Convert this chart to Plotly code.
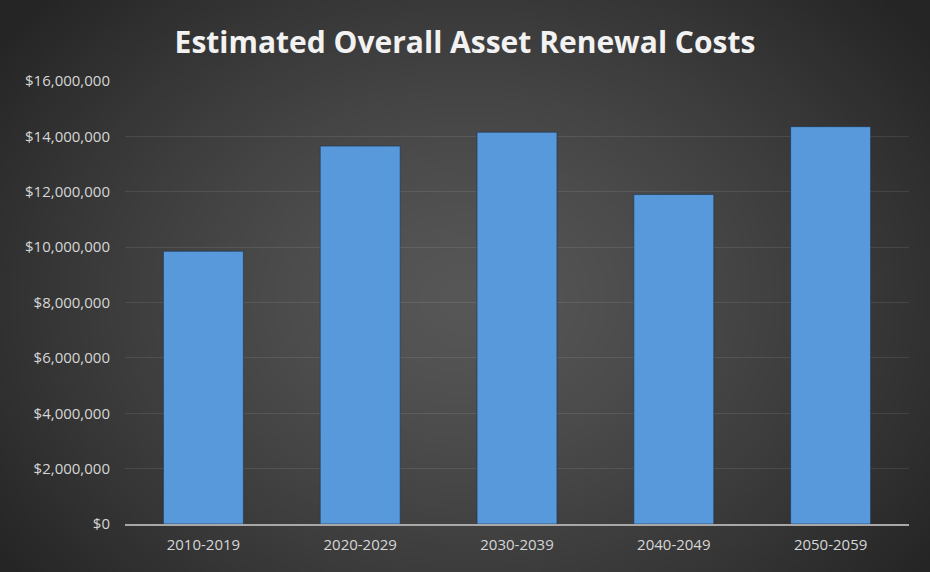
import base64, struct, zlib
import numpy as np
import plotly.graph_objects as go

# ---- data ----
periods = ["2010-2019", "2020-2029", "2030-2039", "2040-2049", "2050-2059"]
costs = [9850000, 13650000, 14150000, 11900000, 14350000]
tick_vals = [0, 2000000, 4000000, 6000000, 8000000, 10000000, 12000000, 14000000, 16000000]
tick_text = ["$0", "$2,000,000", "$4,000,000", "$6,000,000", "$8,000,000",
             "$10,000,000", "$12,000,000", "$14,000,000", "$16,000,000"]
title_text = "Estimated Overall Asset Renewal Costs"

# ---- radial gradient background image ----
W, H = 310, 190
yy, xx = np.mgrid[0:H, 0:W]
cx, cy = W * 0.5, H * 0.52
d = np.sqrt(((xx - cx) / (W * 0.62)) ** 2 + ((yy - cy) / (H * 0.78)) ** 2)
d = np.clip(d, 0, 1)
val = (0x57 - (0x57 - 0x25) * d ** 1.3).astype(np.uint8)
rows = b"".join(b"\x00" + bytes(np.repeat(val[r], 3)) for r in range(H))

def chunk(tag, data):
    c = struct.pack(">I", len(data)) + tag + data
    return c + struct.pack(">I", zlib.crc32(tag + data) & 0xffffffff)

png = b"\x89PNG\r\n\x1a\n" + chunk(b"IHDR", struct.pack(">IIBBBBB", W, H, 8, 2, 0, 0, 0)) \
      + chunk(b"IDAT", zlib.compress(rows, 9)) + chunk(b"IEND", b"")
bg_uri = "data:image/png;base64," + base64.b64encode(png).decode()

fig = go.Figure()
fig.add_trace(go.Bar(
    x=periods, y=costs,
    marker=dict(color="#5799da", line=dict(color="rgba(30,50,80,0.6)", width=1)),
    width=0.51,
))

fig.update_layout(
    width=930, height=572,
    margin=dict(l=125, r=21, t=81, b=48),
    paper_bgcolor="#2a2a2a",
    plot_bgcolor="rgba(0,0,0,0)",
    images=[dict(source=bg_uri, xref="paper", yref="paper", x=-125/784, y=1+81/443,
                 sizex=930/784, sizey=572/443, xanchor="left", yanchor="top",
                 sizing="stretch", layer="below")],
    title=dict(text=title_text, x=0.5, xref="container", xanchor="center",
               y=1 - 42/572, yanchor="middle",
               font=dict(family="Open Sans", size=30, color="#f2f2f2", weight="bold")),
    showlegend=False,
    bargap=0.49,
    font=dict(family="Open Sans", color="#d6d6d6"),
)
fig.update_yaxes(range=[0, 16000000], tickvals=tick_vals, ticktext=tick_text,
                 tickfont=dict(size=15, color="#d6d6d6", family="Open Sans"),
                 showgrid=True, gridcolor="rgba(255,255,255,0.09)", gridwidth=1,
                 zeroline=False, showline=False, ticks="", ticklabelstandoff=14)
fig.update_xaxes(showline=True, linecolor="#a8a8a8", linewidth=2,
                 tickfont=dict(size=15, color="#d6d6d6", family="Open Sans"),
                 ticks="", ticklabelstandoff=6)

fig.write_html("out.html")
